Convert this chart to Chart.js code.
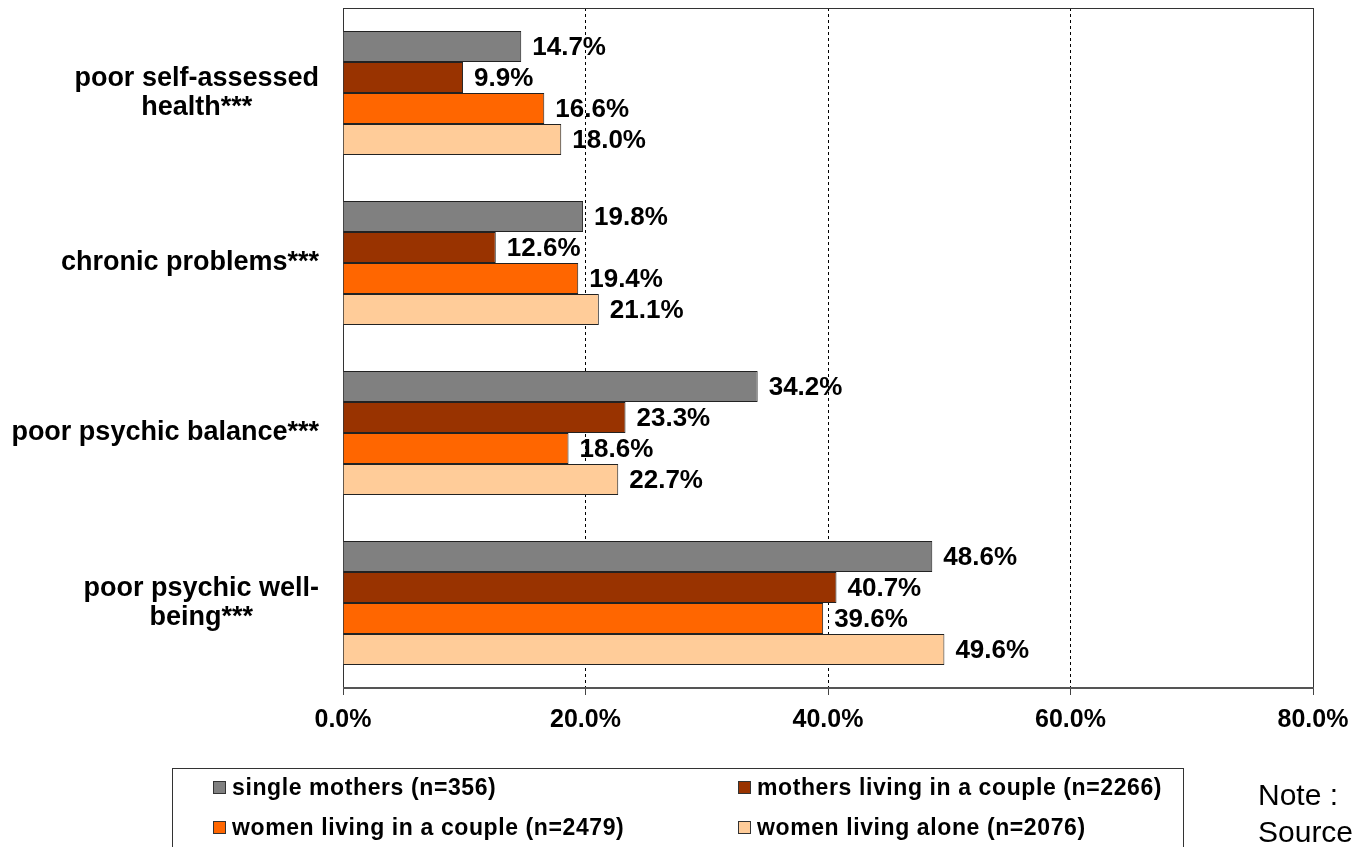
<!DOCTYPE html>
<html>
<head>
<meta charset="utf-8">
<script src="https://cdn.jsdelivr.net/npm/chart.js@4/dist/chart.umd.min.js"></script>
<style>
  body { margin: 0; background: #fff; }
  #wrap { width: 1353px; height: 847px; }
</style>
</head>
<body>
<div id="wrap"><canvas id="healthChart" width="1353" height="847"></canvas></div>
<script>
// categories (top to bottom)
var categories = [['poor self-assessed', 'health***'], 'chronic problems***', 'poor psychic balance***', ['poor psychic well-', 'being***']];

// series values, in %
var singleMothers = [14.7, 19.8, 34.2, 48.6];
var mothersCouple = [9.9, 12.6, 23.3, 40.7];
var womenCouple = [16.6, 19.4, 18.6, 39.6];
var womenAlone = [18.0, 21.1, 22.7, 49.6];

var seriesNames = ['single mothers (n=356)', 'mothers living in a couple (n=2266)', 'women living in a couple (n=2479)', 'women living alone (n=2076)'];
var colors = ['#808080', '#993300', '#ff6600', '#ffcc99'];

// x axis ticks
var tickValues = [0, 20, 40, 60, 80];

var FONT = '"Liberation Sans", Arial, sans-serif';

// category labels: right-aligned block, each line centred in it
var categoryLabels = {
    id: 'categoryLabels',
    afterDraw: function(chart) {
        var ctx = chart.ctx;
        var yScale = chart.scales.y;
        ctx.save();
        ctx.font = 'bold 27px ' + FONT;
        ctx.fillStyle = '#000';
        ctx.textBaseline = 'middle';
        ctx.textAlign = 'center';
        var rightEdge = chart.chartArea.left - 24;
        var lineH = 29;
        for (var i = 0; i < categories.length; i++) {
            var lines = [].concat(categories[i]);
            var maxW = 0;
            for (var j = 0; j < lines.length; j++) {
                maxW = Math.max(maxW, ctx.measureText(lines[j]).width);
            }
            var cx = rightEdge - maxW / 2;
            var cy = yScale.getPixelForValue(i);
            var y0 = cy - (lines.length - 1) * lineH / 2;
            for (var j = 0; j < lines.length; j++) {
                ctx.fillText(lines[j], cx, y0 + j * lineH);
            }
        }
        ctx.restore();
    }
};

// plot area frame
var plotFrame = {
    id: 'plotFrame',
    beforeDatasetsDraw: function(chart) {
        var a = chart.chartArea;
        var ctx = chart.ctx;
        ctx.save();
        ctx.strokeStyle = '#333';
        ctx.lineWidth = 1;
        ctx.strokeRect(a.left + 0.5, a.top + 0.5, a.right - a.left, a.bottom - a.top);
        ctx.strokeStyle = '#555';
        ctx.lineWidth = 2;
        ctx.beginPath();
        ctx.moveTo(a.left, a.bottom);
        ctx.lineTo(a.right + 1, a.bottom);
        ctx.stroke();
        ctx.restore();
    }
};

// value labels at the end of each bar
var valueLabels = {
    id: 'valueLabels',
    afterDatasetsDraw: function(chart) {
        var ctx = chart.ctx;
        ctx.save();
        ctx.font = 'bold 26px ' + FONT;
        ctx.fillStyle = '#000';
        ctx.textAlign = 'left';
        ctx.textBaseline = 'middle';
        chart.data.datasets.forEach(function(ds, di) {
            var meta = chart.getDatasetMeta(di);
            meta.data.forEach(function(bar, i) {
                ctx.fillText(ds.data[i].toFixed(1) + '%', bar.x + 11, bar.y + 1);
            });
        });
        ctx.restore();
    }
};

// boxed two-column legend, Note / Source
var boxLegend = {
    id: 'boxLegend',
    afterDraw: function(chart) {
        var ctx = chart.ctx;
        ctx.save();
        ctx.strokeStyle = '#333';
        ctx.lineWidth = 1;
        ctx.strokeRect(172.5, 768.5, 1011, 100);

        var colX = [213, 738];
        var rowY = [788, 828];
        ctx.font = 'bold 23px ' + FONT;
        ctx.letterSpacing = '0.6px';
        ctx.textBaseline = 'middle';
        ctx.textAlign = 'left';
        chart.data.datasets.forEach(function(ds, i) {
            var x = colX[i % 2];
            var y = rowY[Math.floor(i / 2)];
            ctx.fillStyle = ds.backgroundColor;
            ctx.fillRect(x, y - 7, 13, 13);
            ctx.strokeStyle = '#333';
            ctx.strokeRect(x + 0.5, y - 6.5, 12, 12);
            ctx.fillStyle = '#000';
            ctx.fillText(ds.label, x + 19, y + 1);
        });

        ctx.letterSpacing = '0px';
        ctx.font = '30px ' + FONT;
        ctx.fillText('Note :', 1258, 797);
        ctx.fillText('Source', 1258, 834);
        ctx.restore();
    }
};

var ctx = document.getElementById('healthChart').getContext('2d');
var datasets = [singleMothers, mothersCouple, womenCouple, womenAlone].map(function(values, i) {
    return {
        label: seriesNames[i],
        data: values,
        backgroundColor: colors[i],
        borderColor: '#222',
        borderWidth: 1,
        categoryPercentage: 0.73,
        barPercentage: 1.0
    };
});

var myChart = new Chart(ctx, {
    type: 'bar',
    data: {
        labels: categories,
        datasets: datasets
    },
    options: {
        indexAxis: 'y',
        responsive: false,
        animation: false,
        layout: {
            padding: { left: 0, right: 40, top: 8, bottom: 0 }
        },
        scales: {
            x: {
                min: tickValues[0],
                max: tickValues[tickValues.length - 1],
                afterBuildTicks: function(scale) {
                    scale.ticks = tickValues.map(function(v) { return { value: v }; });
                },
                afterFit: function(scale) {
                    scale.height = 159;
                    scale.paddingLeft = 0;
                    scale.paddingRight = 0;
                },
                ticks: {
                    padding: 10,
                    color: '#000',
                    font: { family: FONT, size: 25, weight: 'bold' },
                    maxRotation: 0,
                    callback: function(v) { return Number(v).toFixed(1) + '%'; }
                },
                grid: {
                    color: function(c) {
                        var v = c.tick ? c.tick.value : null;
                        return (v === tickValues[0] || v === tickValues[tickValues.length - 1]) ? 'rgba(0,0,0,0)' : '#000';
                    },
                    tickColor: '#444',
                    tickLength: 7,
                    lineWidth: 1
                },
                border: { display: false, dash: [3, 3] }
            },
            y: {
                afterFit: function(scale) { scale.width = 343; },
                ticks: { display: false },
                grid: { display: false },
                border: { display: false }
            }
        },
        plugins: {
            legend: { display: false },
            tooltip: { enabled: false }
        }
    },
    plugins: [plotFrame, valueLabels, categoryLabels, boxLegend]
});
</script>
</body>
</html>
